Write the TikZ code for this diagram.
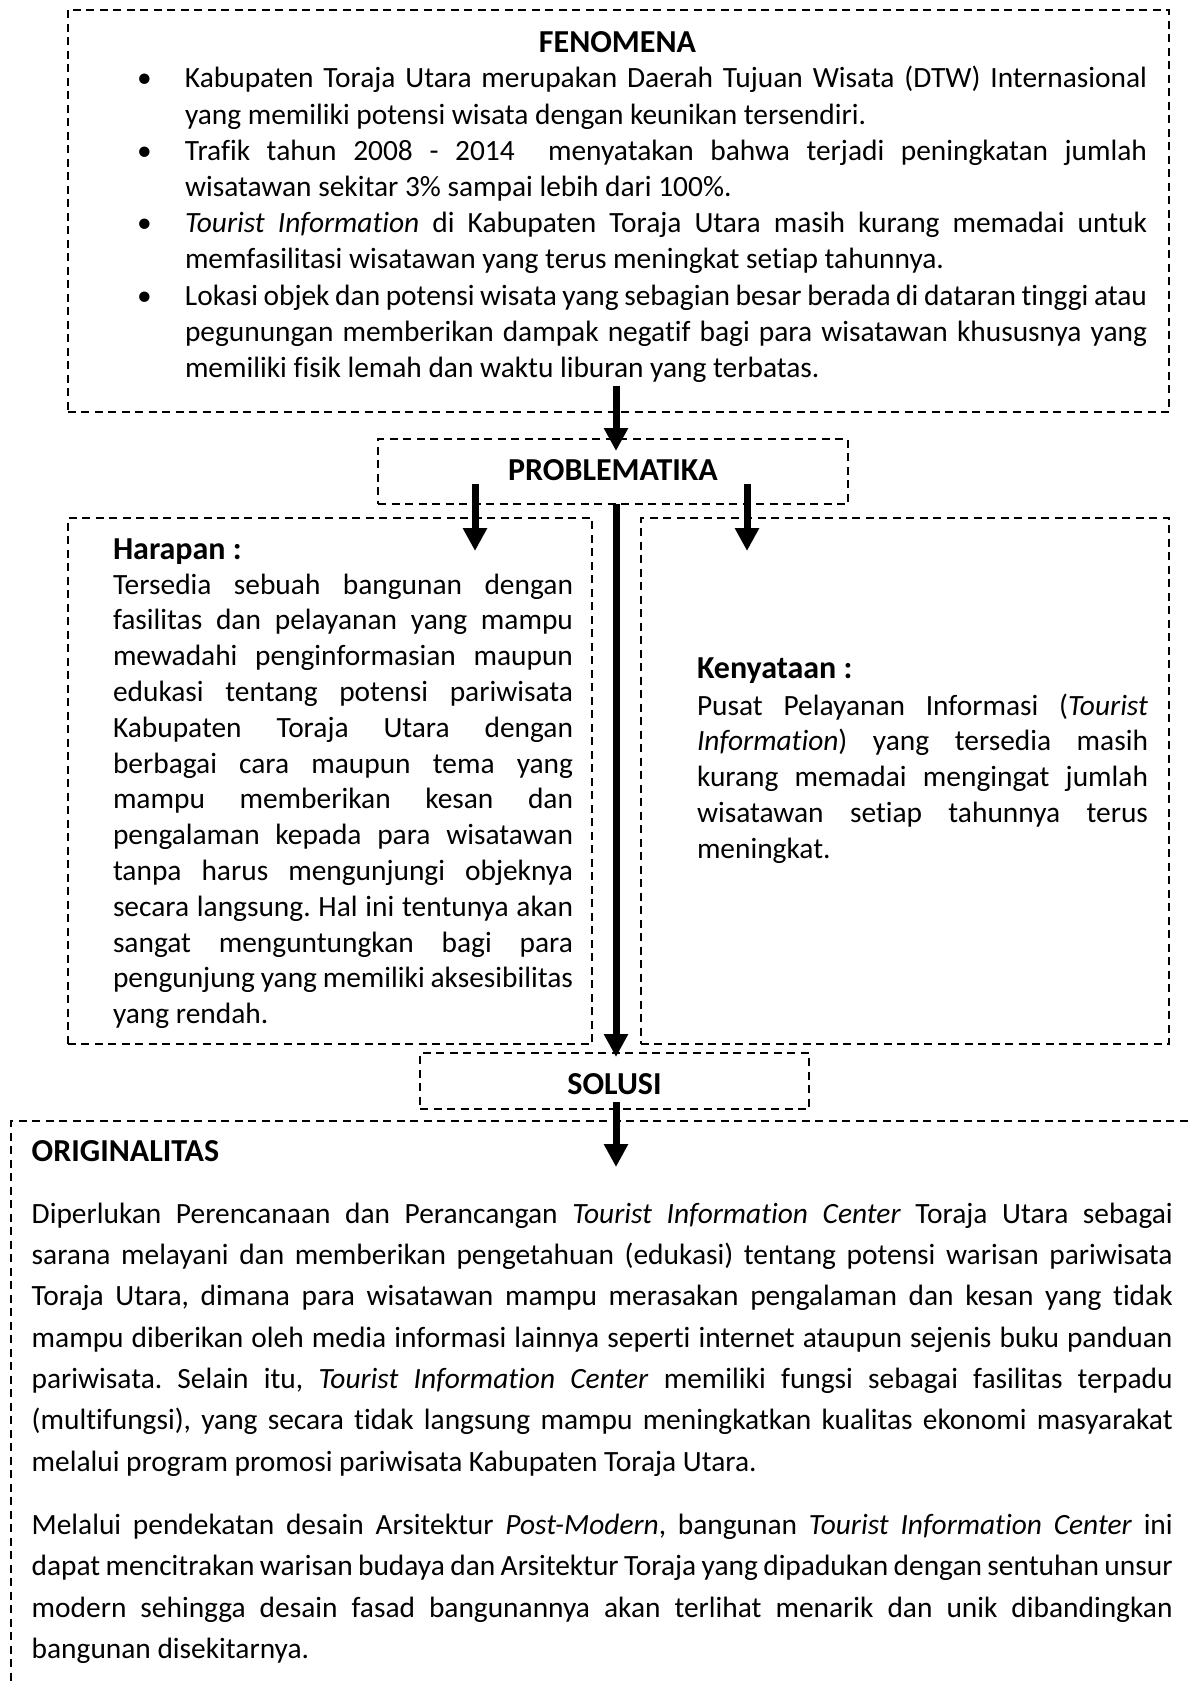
\documentclass[tikz,border=0pt]{standalone}
\usepackage{fontspec}
\setmainfont{Carlito}[Ligatures={NoCommon}]
\usetikzlibrary{arrows.meta,calc}
\hyphenpenalty=10000
\exhyphenpenalty=10000
\tolerance=9999
\emergencystretch=2em
\frenchspacing
\tikzset{
  dbox/.style={draw, line width=1pt, dash pattern=on 4pt off 2.75pt, rectangle, inner sep=0pt, outer sep=0pt},
  arr/.style={line width=3.5pt, -{Triangle[length=11.5pt,width=11.5pt]}},
  head/.style={inner sep=0pt, outer sep=0pt, font=\fontsize{16pt}{19pt}\selectfont\bfseries},
  bodytext/.style={inner sep=0pt, outer sep=0pt, anchor=base west, align=justify},
  bsize/.style={font=\fontsize{14.7pt}{#1}\selectfont\frenchspacing},
}
\begin{document}
\begin{tikzpicture}[x=0.5pt,y=-0.5pt]
\useasboundingbox (0,0) rectangle (1192,1686);
\clip (0,0) rectangle (1192,1686);

% axes for the arrows
\coordinate (cx) at (616,0);
\coordinate (lx) at (475,0);
\coordinate (rx) at (747,0);

% ---------------- FENOMENA ----------------
\node[dbox, minimum width=550.75pt, minimum height=201pt] (fen) at (618.25,211) {};
\node[head, anchor=base] (fenT) at (617.5,53) {FENOMENA};
\node[bodytext, bsize=18.1pt, text width=505pt] (fenB) at (137,88) {%
\hangindent=24pt\hangafter=1\makebox[24pt][l]{\textbullet}Kabupaten Toraja Utara merupakan Daerah Tujuan Wisata (DTW) Internasional\linebreak yang memiliki potensi wisata dengan keunikan tersendiri.\par
\hangindent=24pt\hangafter=1\makebox[24pt][l]{\textbullet}Trafik tahun 2008 - 2014 \ menyatakan bahwa terjadi peningkatan jumlah\linebreak wisatawan sekitar 3\% sampai lebih dari 100\%.\par
\hangindent=24pt\hangafter=1\makebox[24pt][l]{\textbullet}\textit{Tourist Information} di Kabupaten Toraja Utara masih kurang memadai untuk\linebreak memfasilitasi wisatawan yang terus meningkat setiap tahunnya.\par
\hangindent=24pt\hangafter=1\makebox[24pt][l]{\textbullet}Lokasi objek dan potensi wisata yang sebagian besar berada di dataran tinggi atau\linebreak pegunungan memberikan dampak negatif bagi para wisatawan khususnya yang\linebreak memiliki fisik lemah dan waktu liburan yang terbatas.\par};

% ---------------- PROBLEMATIKA ----------------
\node[dbox, head, minimum width=235pt, minimum height=32.5pt, text height=8.5pt, text depth=0pt] (prob) at (613,471.5) {PROBLEMATIKA};

% ---------------- HARAPAN ----------------
\node[dbox, minimum width=262.25pt, minimum height=263pt] (har) at (329.75,781) {};
\node[head, anchor=base west] (harT) at (113,559) {Harapan :};
\node[bodytext, bsize=17.9pt, text width=230pt] (harB) at (113,594) {%
Tersedia sebuah bangunan dengan\linebreak
fasilitas dan pelayanan yang mampu\linebreak
mewadahi penginformasian maupun\linebreak
edukasi tentang potensi pariwisata\linebreak
Kabupaten Toraja Utara dengan\linebreak
berbagai cara maupun tema yang\linebreak
mampu memberikan kesan dan\linebreak
pengalaman kepada para wisatawan\linebreak
tanpa harus mengunjungi objeknya\linebreak
secara langsung. Hal ini tentunya akan\linebreak
sangat menguntungkan bagi para\linebreak
pengunjung yang memiliki aksesibilitas\linebreak
yang rendah.};

% ---------------- KENYATAAN ----------------
\node[dbox, minimum width=264.25pt, minimum height=263pt] (ken) at (904.75,781) {};
\node[head, anchor=base west] (kenT) at (697,678) {Kenyataan :};
\node[bodytext, bsize=17.9pt, text width=225.5pt] (kenB) at (697,715) {%
Pusat Pelayanan Informasi (\textit{Tourist}\linebreak
\textit{Information}) yang tersedia masih\linebreak
kurang memadai mengingat jumlah\linebreak
wisatawan setiap tahunnya terus\linebreak
meningkat.};

% ---------------- SOLUSI ----------------
\node[dbox, head, minimum width=194.5pt, minimum height=28pt, text height=13pt, text depth=0pt] (sol) at (614.5,1081) {SOLUSI};

% ---------------- ORIGINALITAS ----------------
\node[dbox, minimum width=619.5pt, minimum height=314.5pt] (ori) at (630.5,1435.5) {};
\node[head, anchor=base west] (oriT) at (31.7,1161.7) {ORIGINALITAS};
\node[bodytext, bsize=20.65pt, text width=570.5pt] (oriB) at (31.7,1223.3) {%
Diperlukan Perencanaan dan Perancangan \textit{Tourist Information Center} Toraja Utara sebagai\linebreak
sarana melayani dan memberikan pengetahuan (edukasi) tentang potensi warisan pariwisata\linebreak
Toraja Utara, dimana para wisatawan mampu merasakan pengalaman dan kesan yang tidak\linebreak
mampu diberikan oleh media informasi lainnya seperti internet ataupun sejenis buku panduan\linebreak
pariwisata. Selain itu, \textit{Tourist Information Center} memiliki fungsi sebagai fasilitas terpadu\linebreak
(multifungsi), yang secara tidak langsung mampu meningkatkan kualitas ekonomi masyarakat\linebreak
melalui program promosi pariwisata Kabupaten Toraja Utara.\par\vspace{11pt}
Melalui pendekatan desain Arsitektur \textit{Post-Modern}, bangunan \textit{Tourist Information Center} ini\linebreak
dapat mencitrakan warisan budaya dan Arsitektur Toraja yang dipadukan dengan sentuhan unsur\linebreak
modern sehingga desain fasad bangunannya akan terlihat menarik dan unik dibandingkan\linebreak
bangunan disekitarnya.};

% ---------------- ARROWS ----------------
\draw[arr] ($(fen.south -| cx)+(0,-26)$) -- ($(prob.north -| cx)+(0,12)$);
\draw[arr] (prob.south -| cx) -- ($(sol.north -| cx)+(0,4)$);
\draw[arr] ($(prob.south -| lx)+(0,-20)$) -- ($(har.north -| lx)+(0,33)$);
\draw[arr] ($(prob.south -| rx)+(0,-20)$) -- ($(ken.north -| rx)+(0,33)$);
\draw[arr] ($(sol.south -| cx)+(0,-7)$) -- ($(ori.north -| cx)+(0,46)$);
\end{tikzpicture}
\end{document}
